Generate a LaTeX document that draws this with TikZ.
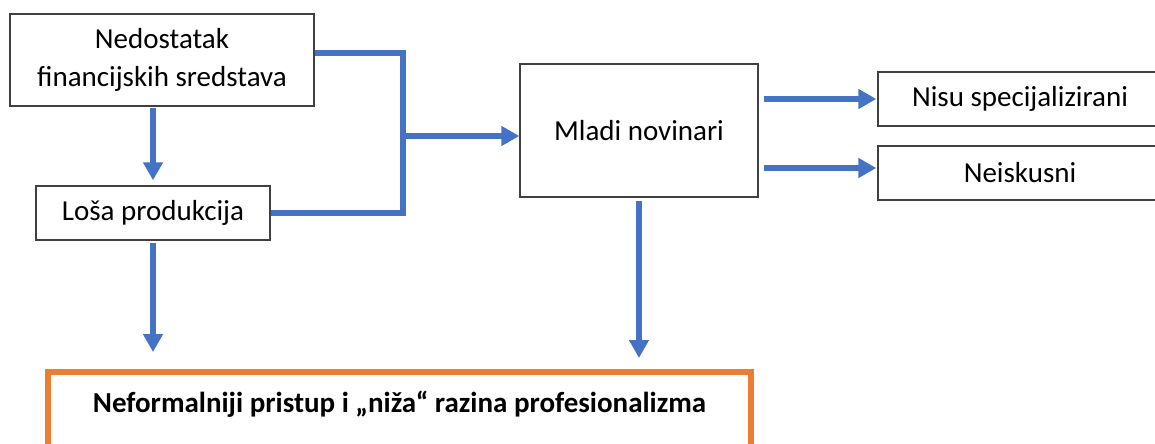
\documentclass[tikz,border=0pt]{standalone}
\usepackage{fontspec}
\setmainfont{Carlito}
\usetikzlibrary{arrows.meta}
\definecolor{plava}{HTML}{4472C4}
\definecolor{narancasta}{HTML}{ED7D31}

\begin{document}
\begin{tikzpicture}[x=0.02cm, y=-0.02cm,
        okvir/.style={draw=black!75, line width=0.8pt, inner sep=0pt, align=center,
            font=\fontsize{16.5}{22}\selectfont},
        linija/.style={draw=plava, line width=3.2pt, line join=miter},
        veza/.style={linija, -{Triangle[length=0.36cm, width=0.38cm]}}]
                \useasboundingbox (0,0) rectangle (1155,443);
                \node[okvir, minimum width=6.08cm, minimum height=1.84cm] (nedostatak) at (162,60) {Nedostatak\\financijskih sredstava};
                \node[okvir, minimum width=4.68cm, minimum height=1.08cm] (losa) at (153,213) {Loša produkcija};
                \node[okvir, minimum width=4.76cm, minimum height=2.66cm] (mladi) at (639,130.5) {Mladi novinari};
                \node[okvir, minimum width=5.68cm, minimum height=1.08cm] (nisu) at (1020,99) {Nisu specijalizirani};
                \node[okvir, minimum width=5.68cm, minimum height=1.08cm] (neisk) at (1020,173) {Neiskusni};
                \node[draw=narancasta, line width=3.4pt, inner sep=0pt, anchor=north,
                    minimum width=14.06cm, text height=0.82cm, text depth=1.14cm,
                    font=\fontsize{16.5}{22}\selectfont\bfseries] (ishod) at (399.5,369) {Neformalniji pristup i „niža“ razina profesionalizma};
                \coordinate (spoj) at (403,136);
                \coordinate (neiskulaz) at ([yshift=0.1cm]neisk.west);
                \draw[linija] ([yshift=0.14cm]nedostatak.east) -| (spoj) |- (losa.east);
                \draw[veza] (spoj) -- (spoj -| mladi.west);
                \draw[veza, shorten <=0.02cm, shorten >=0.1cm] (losa.north |- nedostatak.south) -- (losa.north);
                \draw[veza, shorten <=0.04cm, shorten >=0.34cm] (losa.south) -- (losa.south |- ishod.north);
                \draw[veza, shorten <=0.06cm, shorten >=0.22cm] (mladi.south) -- (mladi.south |- ishod.north);
                \draw[veza, shorten <=0.1cm, shorten >=0.02cm] (mladi.east |- nisu.west) -- (nisu.west);
                \draw[veza, shorten <=0.1cm, shorten >=0.02cm] (mladi.east |- neiskulaz) -- (neiskulaz);
            \end{tikzpicture}
\end{document}
